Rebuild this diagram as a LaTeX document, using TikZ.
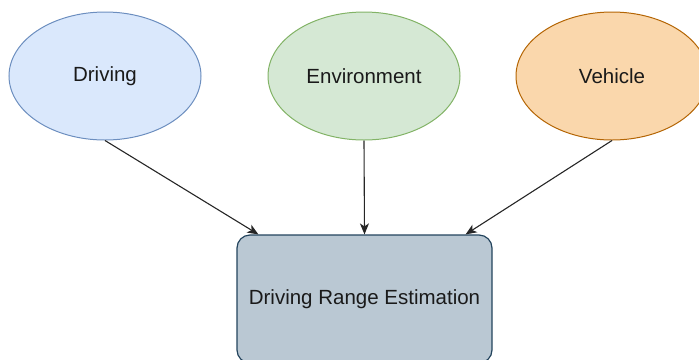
\documentclass[tikz,border=0pt]{standalone}
\usepackage{fontspec}
\setmainfont{Liberation Sans}
\usetikzlibrary{shapes.geometric,arrows.meta}
\definecolor{blueFill}{HTML}{DAE8FC}\definecolor{blueLine}{HTML}{6C8EBF}
\definecolor{greenFill}{HTML}{D5E8D4}\definecolor{greenLine}{HTML}{82B366}
\definecolor{orangeFill}{HTML}{FAD7AC}\definecolor{orangeLine}{HTML}{B46504}
\definecolor{slateFill}{HTML}{BAC8D3}\definecolor{slateLine}{HTML}{23445D}
\definecolor{txt}{HTML}{1A1A1A}
\begin{document}
\begin{tikzpicture}[x=1bp,y=-1bp,
  factor/.style={ellipse, draw, line width=1bp, minimum width=192bp, minimum height=128bp,
    inner sep=0pt, text=txt, font=\fontsize{20.5bp}{24bp}\selectfont},
  result/.style={rectangle, rounded corners=13bp, draw=slateLine, fill=slateFill, line width=1.2bp,
    minimum width=255bp, minimum height=128bp, inner sep=0pt, text=txt,
    font=\fontsize{20.5bp}{24bp}\selectfont},
  link/.style={draw=black!85, line width=1.1bp, -{Stealth[length=11bp,width=9bp,inset=3bp]}}]
\useasboundingbox (0,0) rectangle (699,359);
\begin{scope}
\clip (0,0) rectangle (699,359);
\node[factor, draw=blueLine, fill=blueFill] (drv) at (105,76) {Driving};
\node[factor, draw=greenLine, fill=greenFill] (env) at (364,76) {Environment};
\node[factor, draw=orangeLine, fill=orangeFill] (veh) at (612,76) {Vehicle};
\node[result] (dre) at (364.5,299) {Driving Range Estimation};
\end{scope}
\draw[link] (drv.south) -- ([xshift=22bp]dre.north west);
\draw[link] (env.south) -- (dre.north);
\draw[link] (veh.south) -- ([xshift=-27bp]dre.north east);
\end{tikzpicture}
\end{document}
